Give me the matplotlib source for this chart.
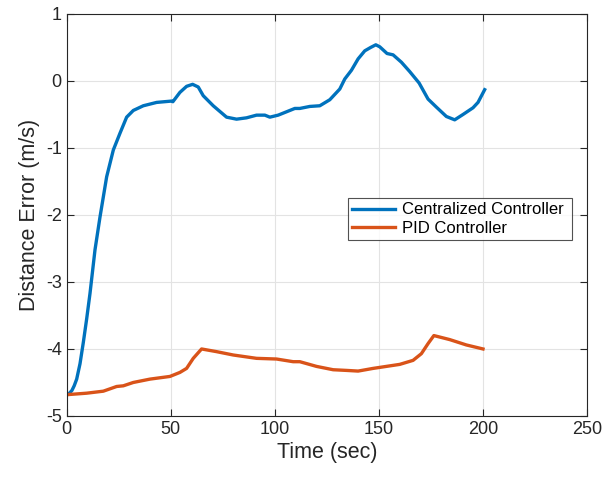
import matplotlib
matplotlib.use("Agg")
import matplotlib.pyplot as plt

plt.rcParams.update({
    "font.family": ["Liberation Sans", "DejaVu Sans"],
    "axes.unicode_minus": False,
    "xtick.direction": "in",
    "ytick.direction": "in",
    "xtick.top": True,
    "ytick.right": True,
})

# Centralized controller
cent_t = [1, 2.5, 3.6, 4.8, 6.4, 8, 9.6, 11.2, 13.6, 16, 19.2, 22.4, 25.6, 28.8, 32,
          36.8, 43.2, 50.4, 51, 54.4, 57.6, 60.5, 63.2, 65.6, 70.4, 76.8, 81.6, 86.4,
          91.2, 95.2, 97.6, 101.6, 105.6, 109.6, 112, 116.8, 121.6, 126.4, 131.2, 133.6,
          136.8, 140, 143.2, 146, 148.5, 150.4, 153.9, 156.8, 160.8, 164.8, 169.3, 173.6,
          177.6, 182.4, 186.4, 190.4, 195.2, 197.6, 200.8]
cent_err = [-4.67, -4.62, -4.55, -4.45, -4.22, -3.9, -3.55, -3.17, -2.52, -2.03, -1.43,
            -1.03, -0.78, -0.54, -0.44, -0.37, -0.32, -0.30, -0.31, -0.17, -0.08, -0.05,
            -0.09, -0.22, -0.37, -0.54, -0.57, -0.55, -0.51, -0.51, -0.54, -0.51, -0.46,
            -0.41, -0.41, -0.38, -0.37, -0.28, -0.12, 0.03, 0.16, 0.33, 0.45, 0.50, 0.54,
            0.51, 0.41, 0.39, 0.28, 0.14, -0.03, -0.27, -0.39, -0.53, -0.58, -0.50, -0.40,
            -0.32, -0.13]

# PID controller
pid_t = [1, 9.6, 17.6, 24, 27.2, 32, 40, 49.6, 54.4, 57.6, 60.8, 64.8, 72, 80, 91.2,
         100.8, 108.8, 112, 120, 128, 134.4, 140, 147.2, 153.6, 160, 166.4, 170.4,
         173.6, 176.4, 184, 192, 200]
pid_err = [-4.68, -4.66, -4.63, -4.56, -4.55, -4.50, -4.45, -4.41, -4.35, -4.29, -4.14,
           -4.00, -4.04, -4.09, -4.14, -4.15, -4.19, -4.19, -4.26, -4.31, -4.32, -4.33,
           -4.29, -4.26, -4.23, -4.17, -4.07, -3.92, -3.80, -3.86, -3.94, -4.00]

fig = plt.figure(figsize=(6.03, 4.82), dpi=100)
ax = fig.add_axes([0.1106, 0.137, 0.863, 0.834])

ax.plot(cent_t, cent_err, color="#0072BD", lw=2.4, label="Centralized Controller")
ax.plot(pid_t, pid_err, color="#D95319", lw=2.4, label="PID Controller")

ax.set_xlim(0, 250)
ax.set_ylim(-5, 1)
ax.set_xticks([0, 50, 100, 150, 200, 250])
ax.set_yticks([-5, -4, -3, -2, -1, 0, 1])
ax.grid(True, color="#e3e3e3", lw=0.8)
ax.set_axisbelow(True)
ax.tick_params(labelsize=13, length=5, width=0.8, color="#262626", labelcolor="#262626")
for s in ax.spines.values():
    s.set_color("#262626")
    s.set_linewidth(0.8)

ax.set_xlabel("Time (sec)", fontsize=15.5, color="#262626", labelpad=3)
ax.set_ylabel("Distance Error (m/s)", fontsize=15.5, color="#262626", labelpad=4)

leg = ax.legend(loc="lower left", bbox_to_anchor=(0.54, 0.438, 0.431, 0.124),
                mode="expand", fontsize=12, frameon=True, fancybox=False,
                edgecolor="#262626", borderaxespad=0, handlelength=2.6,
                handletextpad=0.4, borderpad=0.25, labelspacing=0.2)
leg.get_frame().set_linewidth(0.8)

fig.savefig("out.png", dpi=100)
